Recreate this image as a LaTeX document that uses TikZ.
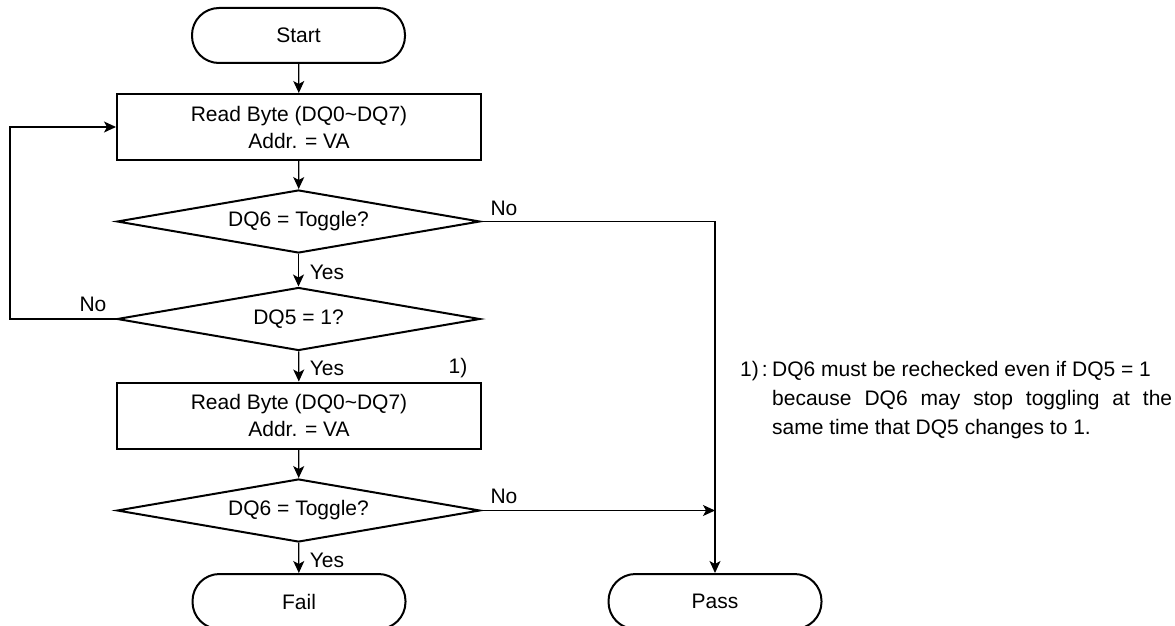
\documentclass[tikz,border=0pt]{standalone}
\usepackage{fontspec}
\setmainfont{Liberation Sans}
\usetikzlibrary{shapes.geometric,arrows.meta}
\begin{document}
\begin{tikzpicture}[x=1pt,y=-1pt,
  txt/.style={font=\fontsize{21pt}{27pt}\selectfont},
  term/.style={txt,draw,line width=2pt,rounded corners=27pt,minimum width=213pt,minimum height=55pt,inner sep=0pt},
  proc/.style={txt,draw,line width=2pt,minimum width=364pt,minimum height=66pt,align=center,inner sep=0pt},
  dec/.style={txt,draw,line width=2pt,diamond,aspect=5.76,inner sep=0pt,minimum width=363pt,minimum height=63pt},
  conn/.style={line width=1.2pt,-{Stealth[length=12pt,width=11pt,inset=3pt]}},
  lbl/.style={txt,inner sep=0pt}]
\useasboundingbox (0,0) rectangle (1175,626);
\clip (0,0) rectangle (1175,626);
\node[term] (start) at (298.5,35.5) {Start};
\node[proc] (b1) at (299,127) {Read Byte (DQ0\textasciitilde DQ7)\\Addr. = VA};
\node[dec] (d1) at (298.5,221.5) {DQ6 = Toggle?};
\node[dec] (d2) at (298.5,319) {DQ5 = 1?};
\node[proc] (b2) at (299,415.5) {Read Byte (DQ0\textasciitilde DQ7)\\Addr. = VA};
\node[dec] (d3) at (298.5,510.5) {DQ6 = Toggle?};
\node[term] (fail) at (299,601.5) {Fail};
\node[term] (pass) at (715,601.5) {Pass};
\coordinate (lx) at (10,0);
\coordinate (rx) at (715,0);
\draw[conn] (start) -- (b1);
\draw[conn] (b1) -- (d1);
\draw[conn] (d1) -- (d2);
\draw[conn] (d2) -- (b2);
\draw[conn] (b2) -- (d3);
\draw[conn] (d3) -- (fail);
\draw[conn] (d2.west) -- (d2.west -| lx) |- (b1.west);
\draw[conn] (d1.east) -- (d1.east -| rx) -- (pass.north);
\draw[conn] (d3.east) -- (d3.east -| rx);
\node[lbl] (no1) at (504,208) {No};
\node[lbl] (no2) at (93,304) {No};
\node[lbl] (no3) at (504,496) {No};
\node[lbl] (yes1) at (327,272) {Yes};
\node[lbl] (yes2) at (327,368) {Yes};
\node[lbl] (yes3) at (327,560) {Yes};
\node[lbl] (ref1) at (458,368) {1)};
\node[lbl,anchor=base west] (nlab) at (740,376) {1)\kern3pt:};
\node[txt,anchor=base west,inner sep=0pt] (note) at (772,376)
  {\parbox[t]{400pt}{\fontsize{21pt}{29pt}\selectfont\raggedright DQ6 must be rechecked even if DQ5 = 1\\\makebox[400pt][s]{because DQ6 may stop toggling at the}\\same time that DQ5 changes to 1.}};
\end{tikzpicture}
\end{document}
